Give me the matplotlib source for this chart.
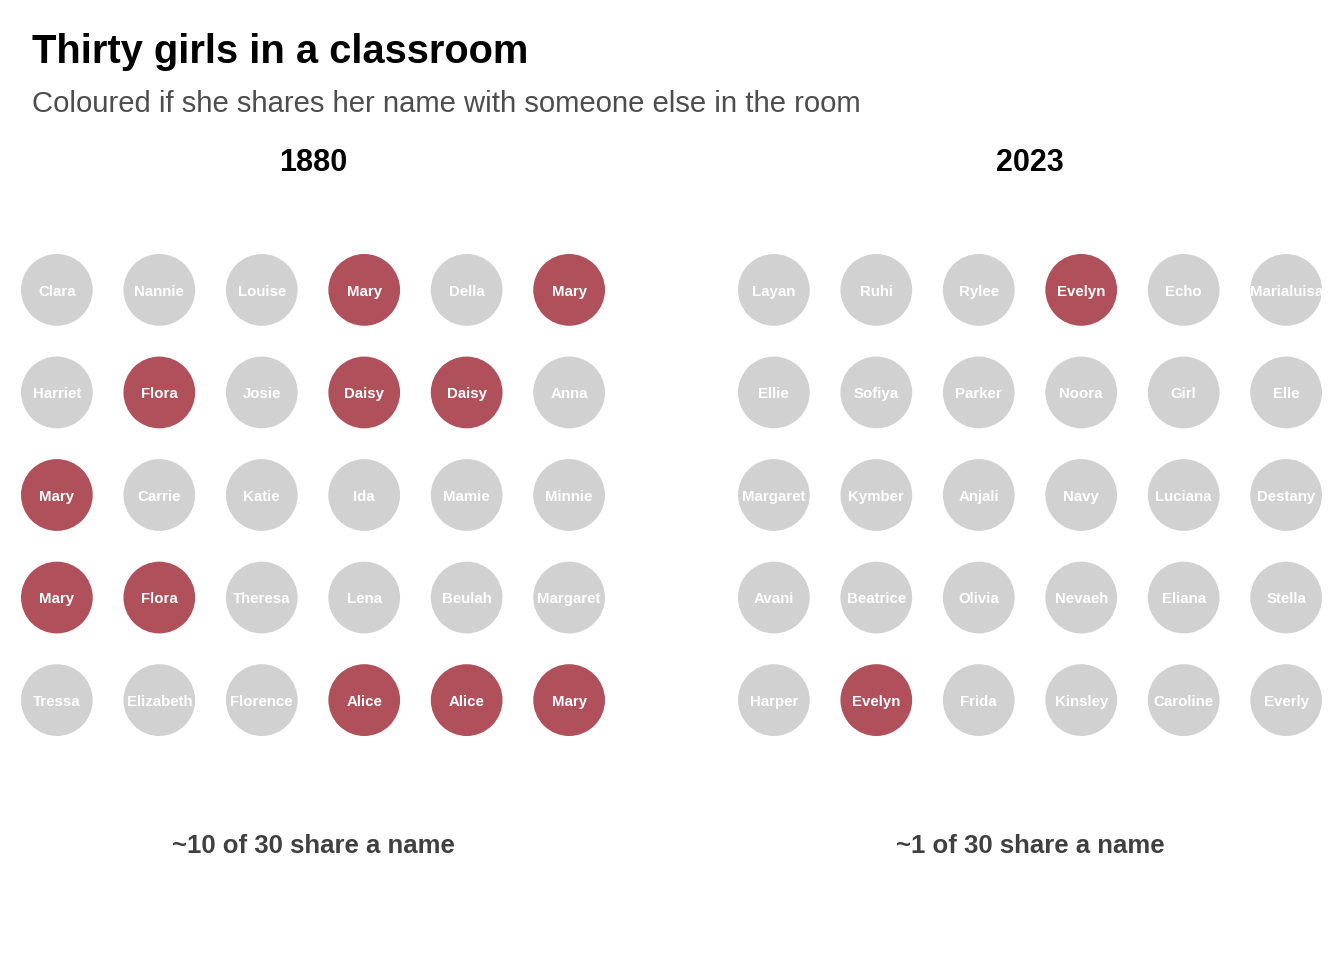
import numpy as np
import matplotlib
matplotlib.use("Agg")
import matplotlib.pyplot as plt
from matplotlib.patches import Circle
from collections import Counter

# ---------------------------------------------------------------- data
YEARS = ["1880", "2023"]
NAMES_1880 = [
    "Clara", "Nannie", "Louise", "Mary", "Della", "Mary",
    "Harriet", "Flora", "Josie", "Daisy", "Daisy", "Anna",
    "Mary", "Carrie", "Katie", "Ida", "Mamie", "Minnie",
    "Mary", "Flora", "Theresa", "Lena", "Beulah", "Margaret",
    "Tressa", "Elizabeth", "Florence", "Alice", "Alice", "Mary",
]
NAMES_2023 = [
    "Layan", "Ruhi", "Rylee", "Evelyn", "Echo", "Marialuisa",
    "Ellie", "Sofiya", "Parker", "Noora", "Girl", "Elle",
    "Margaret", "Kymber", "Anjali", "Navy", "Luciana", "Destany",
    "Avani", "Beatrice", "Olivia", "Nevaeh", "Eliana", "Stella",
    "Harper", "Evelyn", "Frida", "Kinsley", "Caroline", "Everly",
]
FOOTERS = ["~10 of 30 share a name", "~1 of 30 share a name"]

NCOL, NROW = 6, 5
RED = "#B0505A"
GREY = "#D1D1D1"
FONT = "Liberation Sans"

W, H = 1344, 960
fig = plt.figure(figsize=(W / 100, H / 100), dpi=100)
fig.patch.set_facecolor("white")

fig.text(32 / W, 1 - 63 / H, "Thirty girls in a classroom", fontsize=28.7,
         fontweight="bold", family=FONT, color="black", ha="left", va="baseline")
fig.text(32 / W, 1 - 112 / H, "Coloured if she shares her name with someone else in the room",
         fontsize=21.1, family=FONT, color="#4D4D4D", ha="left", va="baseline")

R = 0.35
panels = [(21, NAMES_1880), (738, NAMES_2023)]
for (left, names), year, foot in zip(panels, YEARS, FOOTERS):
    ax = fig.add_axes([left / W, 1 - 736 / H, 584 / W, 482 / H])
    ax.set_xlim(-R, NCOL - 1 + R)
    ax.set_ylim(NROW - 1 + R, -R)
    ax.axis("off")
    counts = Counter(names)
    for k, name in enumerate(names):
        col, row = k % NCOL, k // NCOL
        c = RED if counts[name] > 1 else GREY
        ax.add_patch(Circle((col, row), R, facecolor=c, edgecolor="none"))
        # baseline sits about half a cap height below the circle centre
        ax.text(col, row + 0.055, name, ha="center", va="baseline", color="white",
                fontsize=10.8, fontweight="bold", family=FONT, clip_on=True)
    cx = (left + 292) / W
    fig.text(cx, 1 - 171 / H, year, ha="center", va="baseline", fontsize=22,
             fontweight="bold", family=FONT, color="black")
    fig.text(cx, 1 - 853 / H, foot, ha="center", va="baseline", fontsize=18.5,
             fontweight="bold", family=FONT, color="#404040")

fig.savefig("out.png", dpi=100, facecolor="white")
